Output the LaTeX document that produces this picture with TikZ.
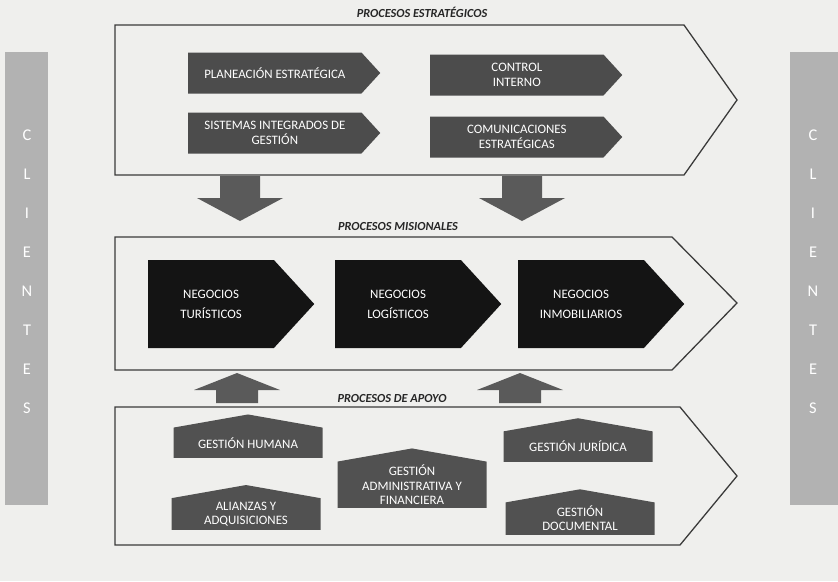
\documentclass[tikz,border=0pt]{standalone}
\usepackage{fontspec}
\setmainfont{Carlito}
\usetikzlibrary{shapes.symbols,positioning}
\definecolor{paper}{HTML}{EFEFED}
\definecolor{framegray}{HTML}{3A3A3A}
\definecolor{estratgray}{HTML}{4C4C4C}
\definecolor{misionblack}{HTML}{141414}
\definecolor{apoyogray}{HTML}{515151}
\definecolor{arrowgray}{HTML}{5A5A5A}
\definecolor{sidegray}{HTML}{B2B2B2}
\tikzset{
  marco/.style={draw=framegray, line width=1.1pt},
  titulo/.style={font=\fontsize{10.5}{12}\selectfont\bfseries\itshape, text=black!85},
  estrat/.style={signal, signal to=east, signal pointer angle=95, fill=estratgray,
    text=white, align=center, font=\fontsize{11}{12.5}\selectfont,
    minimum width=57.6mm, minimum height=12.3mm, inner sep=0pt, anchor=west},
  mision/.style={signal, signal to=east, signal pointer angle=95, fill=misionblack,
    text=white, align=center, font=\fontsize{11}{17}\selectfont,
    minimum width=49.8mm, minimum height=26.4mm, inner sep=0pt, anchor=west},
  apoyo/.style={signal, signal to=north, signal pointer angle=160, fill=apoyogray,
    text=white, align=center, font=\fontsize{11}{12}\selectfont,
    minimum width=44.7mm, minimum height=11.7mm, inner sep=0pt, anchor=south},
  flecha/.style={fill=arrowgray},
  letra/.style={text=white, font=\fontsize{14}{14}\selectfont},
}
\begin{document}
\begin{tikzpicture}[x=0.3mm, y=-0.3mm]
	\useasboundingbox (0,0) rectangle (838,581);
	\fill[paper] (0,0) rectangle (838,581);
	\fill[sidegray] (5,52) rectangle (48,505);
	\fill[sidegray] (790,52) rectangle (838,505);
	\foreach \l [count=\i] in {C,L,I,E,N,T,E,S}{
		\node[letra] (izq\i) at (27,{96+39*\i}) {\l};
		\node[letra] (der\i) at (813,{96+39*\i}) {\l};
	}
	% procesos estrategicos
	\node[titulo] (tEstr) at (422,12) {PROCESOS ESTRATÉGICOS};
	\draw[marco] (115,25) -- (684,25) -- (737,100) -- (684,175) -- (115,175) -- cycle;
	\node[estrat] (planeacion) at (188,73) {PLANEACIÓN ESTRATÉGICA};
	\node[estrat] (control) at (430,75) {CONTROL\\INTERNO};
	\node[estrat] (sistemas) at (188,133) {SISTEMAS INTEGRADOS DE\\GESTIÓN};
	\node[estrat] (comunicaciones) at (430,137) {COMUNICACIONES\\ESTRATÉGICAS};
	\foreach \cx in {240,522}
		\fill[flecha] (\cx-20,176) -- (\cx+20,176) -- (\cx+20,198) -- (\cx+43,198)
			-- (\cx,221) -- (\cx-43,198) -- (\cx-20,198) -- cycle;
	% procesos misionales
	\node[titulo] (tMis) at (398,226) {PROCESOS MISIONALES};
	\draw[marco] (115,237) -- (672,237) -- (737,303) -- (672,370) -- (115,370) -- cycle;
	\node[mision] (turisticos) at (148,304) {NEGOCIOS\\TURÍSTICOS};
	\node[mision] (logisticos) at (335,304) {NEGOCIOS\\LOGÍSTICOS};
	\node[mision] (inmobiliarios) at (518,304) {NEGOCIOS\\INMOBILIARIOS};
	\foreach \cx in {237,520}
		\fill[flecha] (\cx-21,403) -- (\cx+21,403) -- (\cx+21,390) -- (\cx+43,390)
			-- (\cx,373) -- (\cx-43,390) -- (\cx-21,390) -- cycle;
	% procesos de apoyo
	\node[titulo] (tApoyo) at (392,398) {PROCESOS DE APOYO};
	\draw[marco] (115,407) -- (680,407) -- (737,476) -- (680,545) -- (115,545) -- cycle;
	\node[apoyo] (humana) at (248,458) {GESTIÓN HUMANA};
	\node[apoyo] (alianzas) at (246,530) {ALIANZAS Y\\ADQUISICIONES};
	\node[apoyo, minimum height=16.5mm] (administrativa) at (412,508) {GESTIÓN\\ADMINISTRATIVA Y\\FINANCIERA};
	\node[apoyo] (juridica) at (578,462) {GESTIÓN JURÍDICA};
	\node[apoyo] (documental) at (580,535) {GESTIÓN\\DOCUMENTAL};
\end{tikzpicture}
\end{document}
